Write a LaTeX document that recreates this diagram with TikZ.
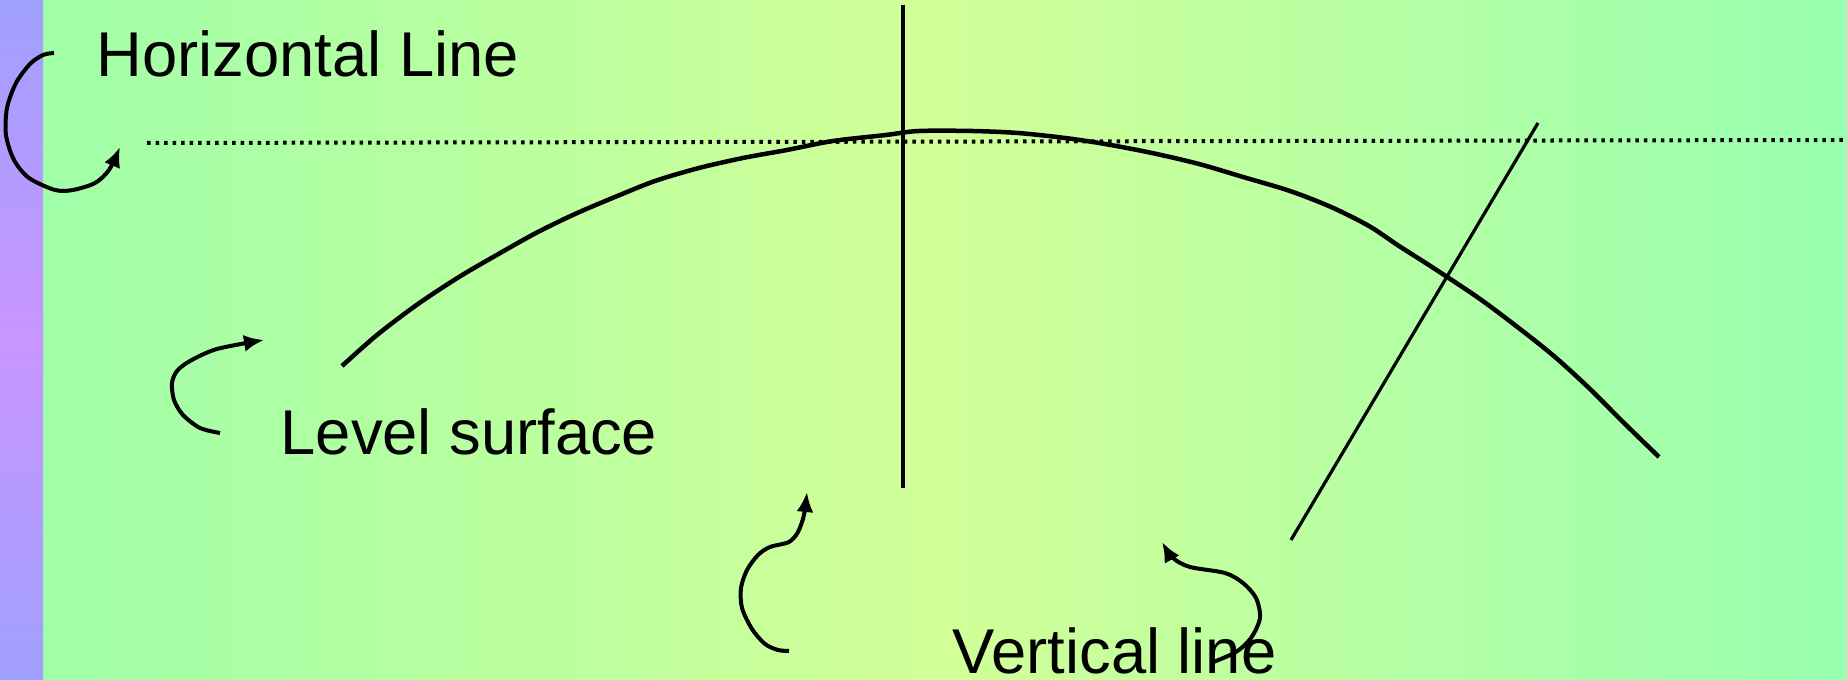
\documentclass[tikz,border=0pt]{standalone}
\usepackage{fontspec}
\setmainfont{Liberation Sans}
\usetikzlibrary{arrows.meta}
\definecolor{leftgreen}{HTML}{A0FFA8}
\definecolor{midgreen}{HTML}{D2FF98}
\definecolor{rightgreen}{HTML}{98FFB0}
\definecolor{stripblue}{HTML}{A0A0FF}
\definecolor{strippurple}{HTML}{C896FF}
\definecolor{ink}{HTML}{000000}

\begin{document}
\begin{tikzpicture}[x=0.01cm,y=-0.01cm,
  surface/.style={ink,line width=0.45mm,line join=round},
  pointer/.style={ink,line width=0.4mm,line join=round,-{Latex[length=2mm,width=1.7mm]}},
  lbl/.style={anchor=base west,inner sep=0pt,font=\fontsize{18}{21}\selectfont}]
\useasboundingbox (0,0) rectangle (1847,680);
\shade[left color=leftgreen,right color=rightgreen,middle color=midgreen] (43,0) rectangle (1847,680);
\shade[top color=stripblue,bottom color=stripblue,middle color=strippurple] (0,0) rectangle (43,680);
\foreach \x/\y/\name/\txt in {96/77/hline/Horizontal Line,280/455/level/Level surface,952/674/vline/Vertical line}{
  \node[lbl] (\name) at (\x,\y) {\txt};
}
% the level surface and the two lines
\draw[surface] plot[smooth,tension=.5] coordinates {(342,366) (377,335) (418,304) (459,277) (495,256) (536,233) (575,214) (615,197) (655,181) (699,168) (743,158) (787,150) (833,141) (886,135) (919,131) (972,131) (1018,133) (1065,138) (1105,144) (1152,153) (1199,164) (1243,177) (1290,191) (1331,207) (1369,226) (1399,246) (1435,269) (1480,299) (1520,329) (1555,357) (1590,389) (1623,422) (1659,457)};
\draw[ink,line width=0.45mm] (903,5) -- (903,488);
\draw[ink,line width=0.32mm] (1538,123) -- (1291,540);
\draw[ink,line width=0.4mm,dash pattern=on 0.35mm off 0.5mm] (147,143) -- (1843,140);
% pointers
\draw[pointer] plot[smooth,tension=.5] coordinates {(54,53) (43,55) (30,64) (16,83) (7,108) (6,135) (14,160) (29,178) (55,190) (73,190) (95,183) (109,170) (120,147)};
\draw[pointer] plot[smooth,tension=.5] coordinates {(220,433) (200,428) (183,415) (174,400) (172,383) (177,371) (190,361) (217,349) (264,340)};
\draw[pointer] plot[smooth,tension=.5] coordinates {(789,651) (778,650) (765,644) (752,629) (742,608) (741,588) (747,570) (758,555) (770,547) (789,542) (798,532) (804,515) (807,492)};
\draw[pointer] plot[smooth,tension=.5] coordinates {(1211,663) (1236,652) (1251,638) (1260,618) (1256,598) (1243,583) (1225,573) (1190,567) (1173,558) (1162,542)};
\end{tikzpicture}
\end{document}
